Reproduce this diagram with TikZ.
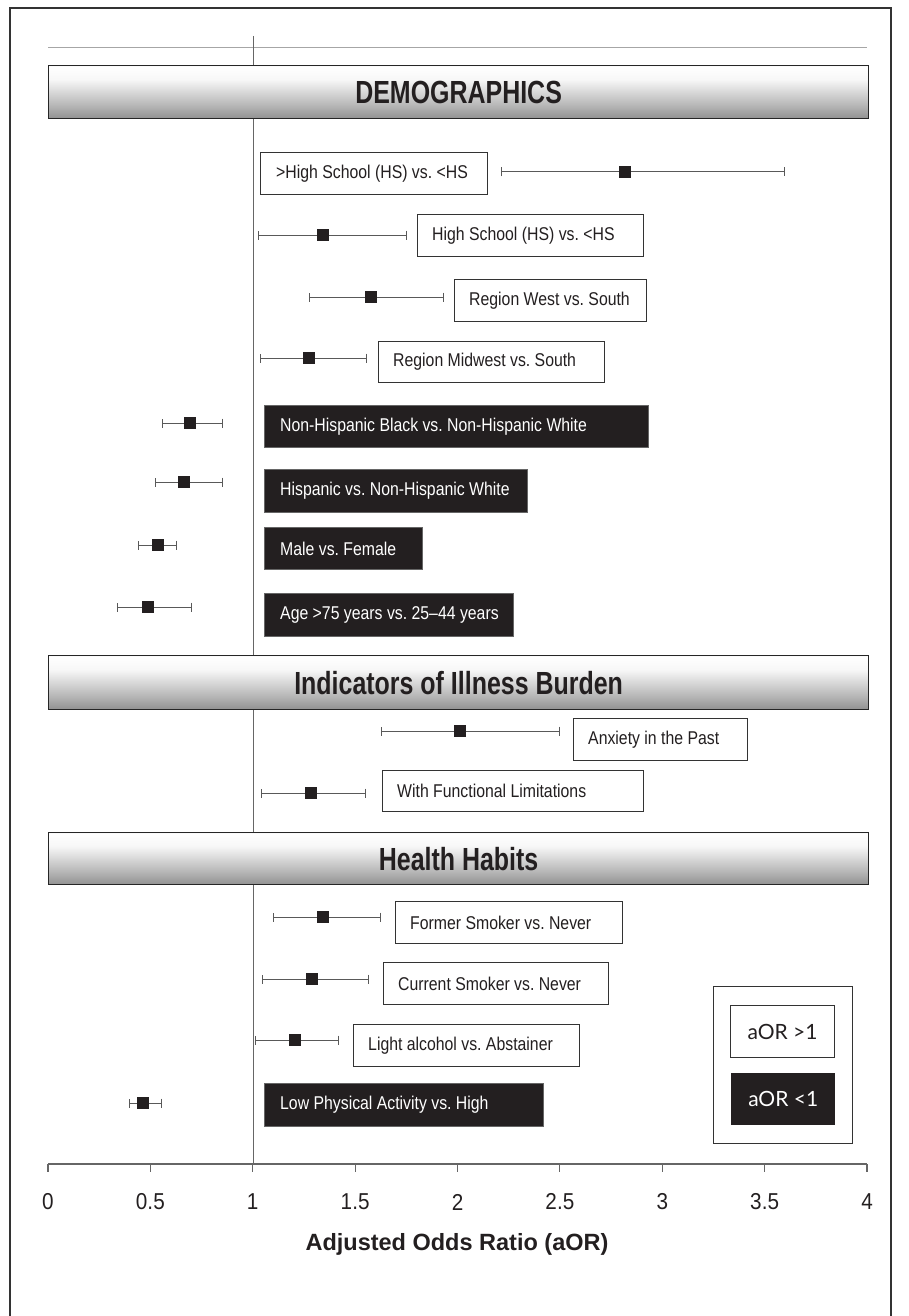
\documentclass[tikz,border=0pt]{standalone}
\usepackage{fontspec}
\setmainfont{Liberation Sans}
\newfontfamily\labf[FakeStretch=0.855,Ligatures=TeX]{Liberation Sans}
\newfontfamily\hdrf[FakeStretch=0.78]{Liberation Sans}
\newfontfamily\tickf[FakeStretch=0.9]{Liberation Sans}
\newfontfamily\legf{Lato}
\usetikzlibrary{arrows.meta}
\pgfdeclareverticalshading{hdrshade}{100bp}{color(0bp)=(black!82); color(12bp)=(black!58); color(38bp)=(black!28); color(62bp)=(black!3); color(74bp)=(white); color(88bp)=(black!42); color(100bp)=(black!82)}
\definecolor{ink}{HTML}{231F20}
\tikzset{
  lbox/.style={draw=black!80, line width=1.1pt, fill=white, anchor=north west, inner sep=0pt},
  dbox/.style={draw=black!60, line width=0.8pt, fill=ink, anchor=north west, inner sep=0pt},
  ltxt/.style={anchor=west, inner sep=0pt, font=\labf\fontsize{18.5}{20}\selectfont, text=ink},
  dtxt/.style={ltxt, text=white},
  hdrbar/.style={draw=black!85, line width=1.2pt, shade, shading=hdrshade, anchor=north west, minimum width=820pt, inner sep=0pt, font=\hdrf\bfseries\fontsize{32}{34}\selectfont, text=ink},
  err/.style={draw=black!65, line width=1pt, {Bar[width=9pt,line width=1pt]}-{Bar[width=9pt,line width=1pt]}},
  ptmark/.style={rectangle, fill=ink, minimum size=11.5pt, inner sep=0pt},
  tick/.style={font=\tickf\fontsize{23}{25}\selectfont, text=ink},
  legbox/.style={minimum width=104pt, minimum height=52pt, inner sep=0pt, font=\legf\fontsize{21}{23}\selectfont, anchor=north west}
}
\begin{document}
\frenchspacing
\begin{tikzpicture}[x=1pt, y=-1pt]
\useasboundingbox (0,0) rectangle (909,1316);
% frame
\draw[black!80, line width=1.6pt] (10,1320) -- (10,8) -- (891,8) -- (891,1320);
% top grey rule
\draw[black!35, line width=1pt] (48,48) -- (867,48);
% reference line at aOR = 1
\coordinate (vtop) at (253,36);
\coordinate (vbot) at (253,1164);
\draw[black!60, line width=1pt] (vtop) -- (vbot);
% headers
\node[hdrbar, minimum height=53pt] (h1) at (48,65) {DEMOGRAPHICS};
\node[hdrbar, minimum height=54pt] (h2) at (48,655) {Indicators of Illness Burden};
\node[hdrbar, minimum height=52pt] (h3) at (48,832) {Health Habits};

% ---- rows ----
% 1
\node[lbox, minimum width=227pt, minimum height=42pt] (b1) at (260,152) {};
\node[ltxt] (t1) at ([xshift=16pt]b1.west) {\mbox{>High School (HS) vs. <HS}};
\coordinate (l1) at (501,172); \coordinate (r1) at (785,172);
\draw[err] (l1) -- (r1); \node[ptmark] (p1) at (625,172) {};
% 2
\node[lbox, minimum width=226pt, minimum height=42pt] (b2) at (417,214) {};
\node[ltxt] (t2) at ([xshift=15pt]b2.west) {High School (HS) vs. <HS};
\coordinate (l2) at (258,235); \coordinate (r2) at (407,235);
\draw[err] (l2) -- (r2); \node[ptmark] (p2) at (323,235) {};
% 3
\node[lbox, minimum width=192pt, minimum height=42pt] (b3) at (454,279) {};
\node[ltxt] (t3) at ([xshift=15pt]b3.west) {Region West vs. South};
\coordinate (l3) at (309,297); \coordinate (r3) at (444,297);
\draw[err] (l3) -- (r3); \node[ptmark] (p3) at (371,297) {};
% 4
\node[lbox, minimum width=226pt, minimum height=41pt] (b4) at (378,341) {};
\node[ltxt] (t4) at ([xshift=15pt]b4.west) {Region Midwest vs. South};
\coordinate (l4) at (260,358); \coordinate (r4) at (367,358);
\draw[err] (l4) -- (r4); \node[ptmark] (p4) at (309,358) {};
% 5
\node[dbox, minimum width=384pt, minimum height=42pt] (b5) at (264,405) {};
\node[dtxt] (t5) at ([xshift=16pt]b5.west) {Non-Hispanic Black vs. Non-Hispanic White};
\coordinate (l5) at (162,423); \coordinate (r5) at (223,423);
\draw[err] (l5) -- (r5); \node[ptmark] (p5) at (190,423) {};
% 6
\node[dbox, minimum width=263pt, minimum height=43pt] (b6) at (264,469) {};
\node[dtxt] (t6) at ([xshift=16pt]b6.west) {Hispanic vs. Non-Hispanic White};
\coordinate (l6) at (155,482); \coordinate (r6) at (223,482);
\draw[err] (l6) -- (r6); \node[ptmark] (p6) at (184,482) {};
% 7
\node[dbox, minimum width=158pt, minimum height=42pt] (b7) at (264,527) {};
\node[dtxt] (t7) at ([xshift=16pt]b7.west) {Male vs. Female};
\coordinate (l7) at (138,545); \coordinate (r7) at (177,545);
\draw[err] (l7) -- (r7); \node[ptmark] (p7) at (158,545) {};
% 8
\node[dbox, minimum width=249pt, minimum height=43pt] (b8) at (264,593) {};
\node[dtxt] (t8) at ([xshift=16pt]b8.west) {Age >75 years vs. 25–44 years};
\coordinate (l8) at (117,607); \coordinate (r8) at (192,607);
\draw[err] (l8) -- (r8); \node[ptmark] (p8) at (148,607) {};
% 9
\node[lbox, minimum width=174pt, minimum height=42pt] (b9) at (573,718) {};
\node[ltxt] (t9) at ([xshift=15pt]b9.west) {Anxiety in the Past};
\coordinate (l9) at (381,731); \coordinate (r9) at (560,731);
\draw[err] (l9) -- (r9); \node[ptmark] (p9) at (460,731) {};
% 10
\node[lbox, minimum width=261pt, minimum height=41pt] (b10) at (382,770) {};
\node[ltxt] (t10) at ([xshift=15pt]b10.west) {With Functional Limitations};
\coordinate (l10) at (261,793); \coordinate (r10) at (366,793);
\draw[err] (l10) -- (r10); \node[ptmark] (p10) at (311,793) {};
% 11
\node[lbox, minimum width=227pt, minimum height=42pt] (b11) at (395,901) {};
\node[ltxt] (t11) at ([xshift=15pt]b11.west) {Former Smoker vs. Never};
\coordinate (l11) at (273,917); \coordinate (r11) at (381,917);
\draw[err] (l11) -- (r11); \node[ptmark] (p11) at (323,917) {};
% 12
\node[lbox, minimum width=225pt, minimum height=42pt] (b12) at (383,962) {};
\node[ltxt] (t12) at ([xshift=15pt]b12.west) {Current Smoker vs. Never};
\coordinate (l12) at (262,979); \coordinate (r12) at (369,979);
\draw[err] (l12) -- (r12); \node[ptmark] (p12) at (312,979) {};
% 13
\node[lbox, minimum width=226pt, minimum height=42pt] (b13) at (353,1024) {};
\node[ltxt] (t13) at ([xshift=15pt]b13.west) {Light alcohol vs. Abstainer};
\coordinate (l13) at (255,1040); \coordinate (r13) at (339,1040);
\draw[err] (l13) -- (r13); \node[ptmark] (p13) at (295,1040) {};
% 14
\node[dbox, minimum width=279pt, minimum height=43pt] (b14) at (264,1083) {};
\node[dtxt] (t14) at ([xshift=16pt]b14.west) {Low Physical Activity vs. High};
\coordinate (l14) at (129,1103); \coordinate (r14) at (162,1103);
\draw[err] (l14) -- (r14); \node[ptmark] (p14) at (143,1103) {};

% legend
\node[draw=black!80, line width=1.1pt, anchor=north west, minimum width=139pt, minimum height=157pt, inner sep=0pt] (leg) at (713,986) {};
\node[legbox, draw=black!80, line width=1.1pt, fill=white, text=ink] (lg1) at (730,1005) {aOR >1};
\node[legbox, fill=ink, text=white] (lg2) at (731,1073) {aOR <1};

% axis
\draw[black!60, line width=1.2pt] (48,1164) -- (867,1164);
\foreach \v/\lab in {0/0,0.5/0.5,1/1,1.5/1.5,2/2,2.5/2.5,3/3,3.5/3.5,4/4}{
  \draw[black!60, line width=1.2pt] ({48+204.75*\v},1164) -- ({48+204.75*\v},1172);
  \node[tick] (t\lab) at ({48+204.75*\v},1202) {\lab};
}
\node[font=\bfseries\fontsize{23.5}{25}\selectfont, text=ink] (xtitle) at (457,1244) {Adjusted Odds Ratio (aOR)};
\end{tikzpicture}
\end{document}
